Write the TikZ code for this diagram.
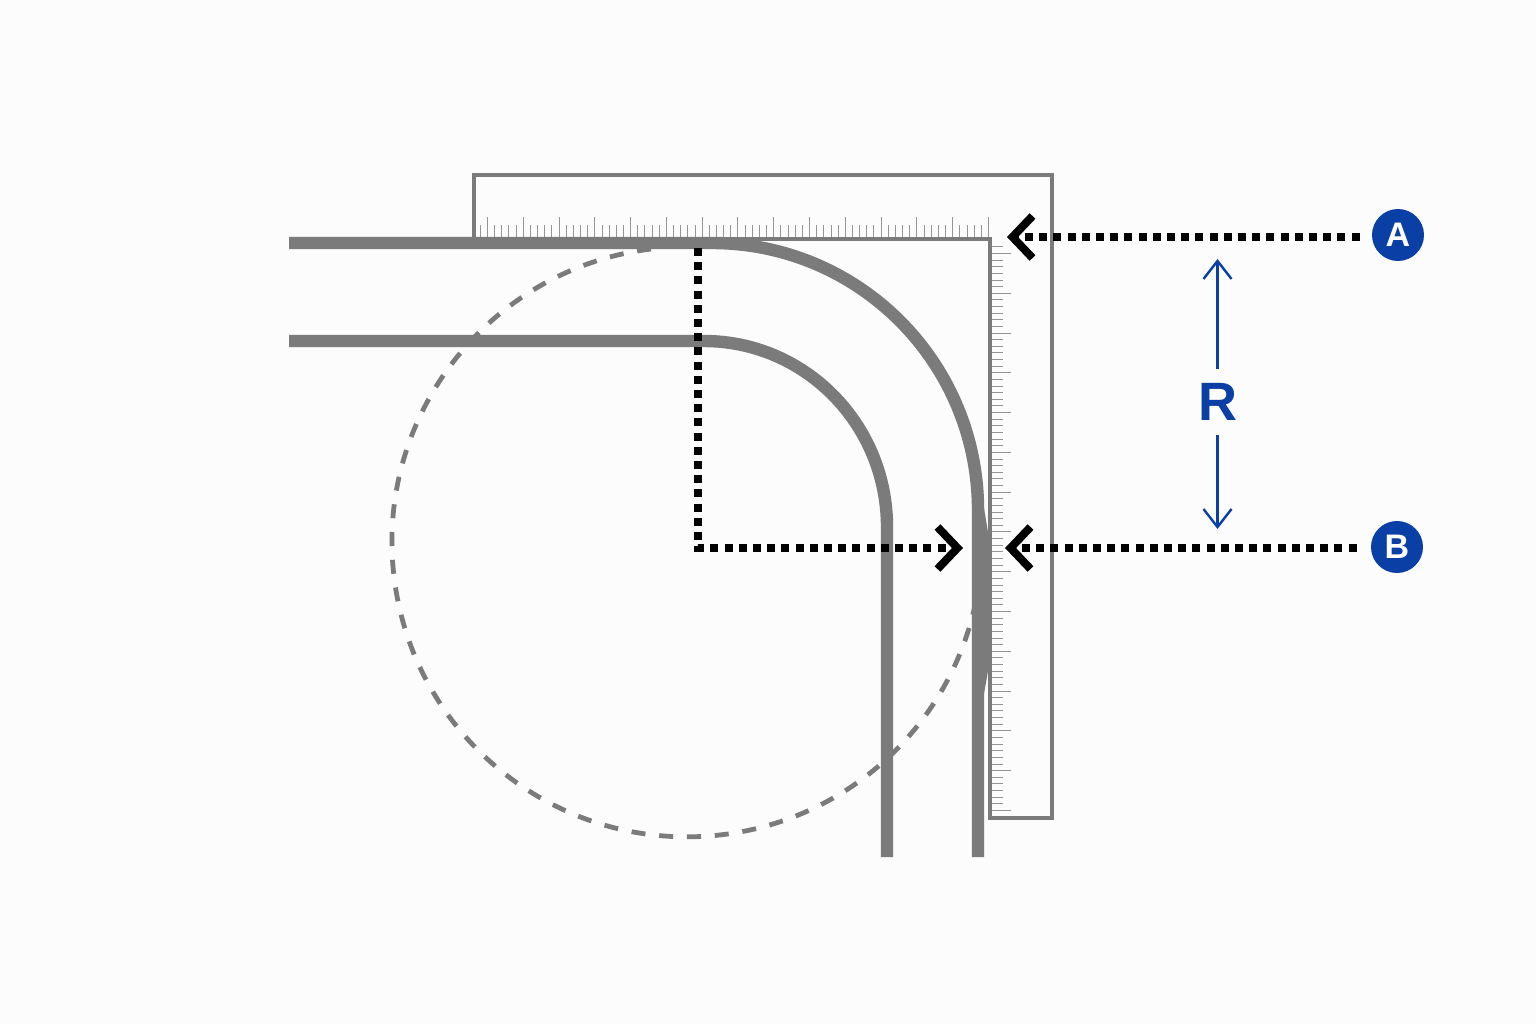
\documentclass[tikz,border=0pt]{standalone}
\usepackage{fontspec}
\setmainfont{Liberation Sans}
\usetikzlibrary{arrows.meta}
\definecolor{pipegray}{HTML}{7B7B7B}
\definecolor{badgeblue}{HTML}{0A3FA6}
\tikzset{
    pipe/.style={draw=pipegray, line width=6.2pt},
    square/.style={draw=pipegray, line width=1.6pt},
    tick/.style={draw=pipegray!80, line width=0.6pt},
    guide/.style={draw=pipegray, line width=2.4pt, dash pattern=on 7pt off 6.92pt},
    dotline/.style={draw=black, line width=4pt, dash pattern=on 4pt off 3.1pt},
    chevron/.style={-{Straight Barb[length=10pt, width=21pt, line width=4pt]}},
    badge/.style={circle, fill=badgeblue, text=white, font=\fontsize{17}{17}\selectfont\bfseries, minimum size=26pt, inner sep=0pt},
    span/.style={draw=badgeblue, line width=1.2pt, -{Straight Barb[length=9pt, width=14pt, line width=1.2pt]}}
}
\begin{document}
\begin{tikzpicture}[x=0.5pt, y=-0.5pt]
    \useasboundingbox[fill=white!99!black] (0,0) rectangle (1536,1024);

    % ruler
    \foreach \i in {-1,...,70} {
        \pgfmathtruncatemacro{\r}{mod(\i+5,5)}
        \pgfmathsetmacro{\t}{\r==0 ? 217 : 225}
        \pgfmathsetmacro{\p}{round(487+7.157*\i)+0.5}
        \draw[tick] (\p,239) -- (\p,\t);
    }
    \foreach \i in {-1,...,84} {
        \pgfmathtruncatemacro{\r}{mod(\i+6,6)}
        \pgfmathsetmacro{\t}{\r==0 ? 1011 : 1003}
        \pgfmathsetmacro{\p}{round(253+6.63*\i)+0.5}
        \draw[tick] (990,\p) -- (\t,\p);
    }
    \draw[square] (474,175) -- (1052,175) -- (1052,818) -- (990,818) -- (990,239) -- (474,239) -- cycle;

    % circle behind the pipes
    \draw[guide] (651,249) arc[start angle=-97, end angle=-348.5, radius=295];

    % pipes
    \draw[pipe] (289,243) -- (712,243) arc[start angle=270, end angle=360, x radius=266, y radius=267] -- (978,857);
    \draw[pipe] (289,341) -- (704,341) arc[start angle=270, end angle=360, x radius=183, y radius=186] -- (887,857);
    \fill[pipegray] (983,500) .. controls (986,525) and (990,535) .. (990,560) -- (990,650) .. controls (990,665) and (986,680) .. (983,700) -- cycle;

    \node[badge] (A) at (1398,235) {A};
    \node[badge] (B) at (1397,547) {B};
    \node[text=badgeblue, font=\fontsize{27}{27}\selectfont\bfseries, minimum height=33pt, inner sep=0pt] (R) at (1217.5,402) {R};

    \coordinate (tipA) at (1007,237);
    \coordinate (tipB) at (1005,548);
    \coordinate (tipC) at (963,548);
    \coordinate (corner) at (698,548);
    \coordinate (centre) at (698,248);
    \coordinate (spanA) at (1217.5,259);
    \coordinate (spanB) at (1217.5,529);

    \draw[dotline, chevron, shorten <=6pt] (A.west |- tipA) -- (tipA);
    \draw[dotline, chevron, shorten <=7pt] (B.west |- tipB) -- (tipB);
    \draw[dotline, chevron] (centre) -- (corner) -- (tipC);

    \draw[span] (R.north) -- (spanA);
    \draw[span] (R.south) -- (spanB);
\end{tikzpicture}
\end{document}
